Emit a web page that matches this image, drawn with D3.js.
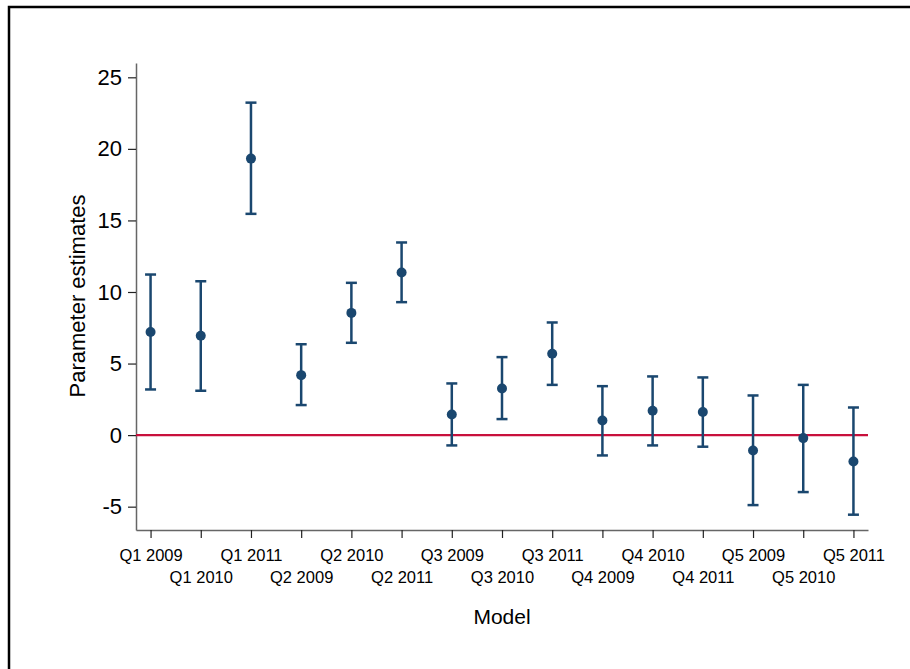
<!DOCTYPE html>
<html lang="en">

<head>
    <meta charset="UTF-8">
    <title>Parameter estimates by model</title>
    <script src="https://d3js.org/d3.v7.min.js"></script>
    <style>
        body {
            margin: 0;
            background: #fff;
            font-family: "Liberation Sans", Arial, sans-serif;
        }
    </style>
</head>

<body>
    <div id="chart"></div>

    <script>
        // Values
        const models = ["Q1 2009", "Q1 2010", "Q1 2011", "Q2 2009", "Q2 2010", "Q2 2011",
            "Q3 2009", "Q3 2010", "Q3 2011", "Q4 2009", "Q4 2010", "Q4 2011",
            "Q5 2009", "Q5 2010", "Q5 2011"];
        const estimates = [7.21, 6.94, 19.32, 4.19, 8.54, 11.36, 1.44, 3.26, 5.68, 1.02, 1.70, 1.61, -1.07, -0.21, -1.84];
        const upper = [11.22, 10.75, 23.23, 6.35, 10.64, 13.46, 3.61, 5.45, 7.87, 3.42, 4.10, 4.03, 2.77, 3.51, 1.93];
        const lower = [3.19, 3.10, 15.46, 2.10, 6.45, 9.29, -0.72, 1.12, 3.51, -1.42, -0.72, -0.81, -4.89, -3.98, -5.56];
        const yTicks = [-5, 0, 5, 10, 15, 20, 25];

        const width = 910, height = 669;
        const plot = { left: 136, right: 868, top: 63, bottom: 530 };
        const navy = "#1a476f";

        const svg = d3.select("#chart")
            .append("svg")
            .attr("width", width)
            .attr("height", height);

        // outer frame (only top and left edges show in the picture)
        svg.append("path")
            .attr("d", `M9,${height} V7 H${width}`)
            .attr("fill", "none")
            .attr("stroke", "#000")
            .attr("stroke-width", 2.5);

        const x = d3.scalePoint()
            .domain(models)
            .range([plot.left, plot.right])
            .padding(0.29);

        const y = d3.scaleLinear()
            .domain([-6.63, 26])
            .range([plot.bottom, plot.top]);

        // y axis (plain hyphen for negatives, like the original)
        const yAxis = svg.append("g")
            .attr("transform", `translate(${plot.left},0)`)
            .call(d3.axisLeft(y).tickValues(yTicks).tickFormat(d => String(d))
                .tickSize(8).tickPadding(6).tickSizeOuter(0));
        yAxis.select(".domain").attr("stroke", "#666").attr("stroke-width", 1.5);
        yAxis.selectAll(".tick line").attr("stroke", "#222").attr("stroke-width", 1.2);
        yAxis.selectAll(".tick text")
            .attr("font-family", "Liberation Sans, Arial, sans-serif")
            .attr("font-size", 22)
            .attr("fill", "#000");

        // x axis, labels staggered over two rows
        const xAxis = svg.append("g")
            .attr("transform", `translate(0,${plot.bottom})`)
            .call(d3.axisBottom(x).tickSize(8).tickSizeOuter(0));
        xAxis.select(".domain").attr("stroke", "#666").attr("stroke-width", 1.5);
        xAxis.selectAll(".tick line").attr("stroke", "#222").attr("stroke-width", 1.2);
        xAxis.selectAll(".tick text")
            .attr("font-family", "Liberation Sans, Arial, sans-serif")
            .attr("font-size", 16.5)
            .attr("fill", "#000")
            .attr("dy", null)
            .attr("y", (d, i) => i % 2 === 0 ? 31 : 53);

        // axis titles
        svg.append("text")
            .attr("transform", "translate(85,296) rotate(-90)")
            .attr("text-anchor", "middle")
            .attr("font-size", 22)
            .text("Parameter estimates");

        svg.append("text")
            .attr("x", (plot.left + plot.right) / 2)
            .attr("y", 624)
            .attr("text-anchor", "middle")
            .attr("font-size", 21)
            .text("Model");

        // zero reference line
        svg.append("line")
            .attr("x1", plot.left)
            .attr("x2", plot.right)
            .attr("y1", y(0))
            .attr("y2", y(0))
            .attr("stroke", "#c8103c")
            .attr("stroke-width", 2.2);

        // error bars
        const bars = svg.append("g")
            .selectAll("g")
            .data(models)
            .enter()
            .append("g")
            .attr("stroke", navy)
            .attr("stroke-width", 2.5);

        bars.append("line")
            .attr("x1", d => x(d))
            .attr("x2", d => x(d))
            .attr("y1", (d, i) => y(upper[i]))
            .attr("y2", (d, i) => y(lower[i]));

        bars.append("line")
            .attr("x1", d => x(d) - 5.5)
            .attr("x2", d => x(d) + 5.5)
            .attr("y1", (d, i) => y(upper[i]))
            .attr("y2", (d, i) => y(upper[i]));

        bars.append("line")
            .attr("x1", d => x(d) - 5.5)
            .attr("x2", d => x(d) + 5.5)
            .attr("y1", (d, i) => y(lower[i]))
            .attr("y2", (d, i) => y(lower[i]));

        // point estimates
        svg.append("g")
            .selectAll("circle")
            .data(models)
            .enter()
            .append("circle")
            .attr("cx", d => x(d))
            .attr("cy", (d, i) => y(estimates[i]))
            .attr("r", 5)
            .attr("fill", navy);
    </script>
</body>

</html>
